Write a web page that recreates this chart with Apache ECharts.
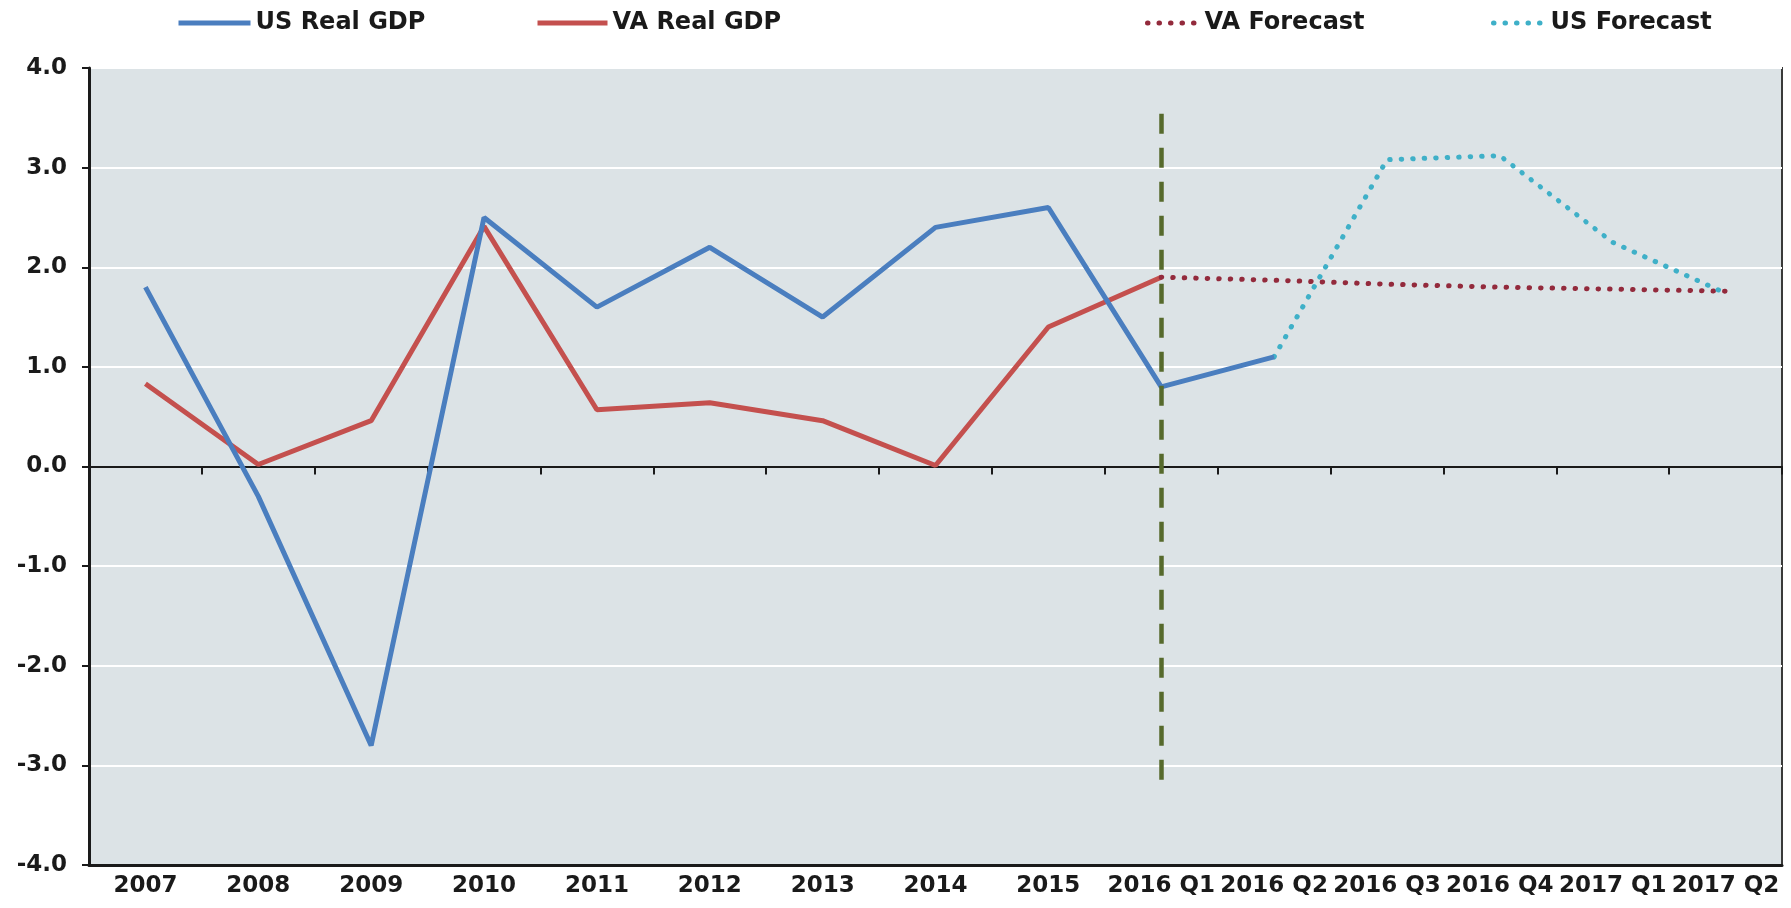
<!DOCTYPE html>
<html>
<head>
<meta charset="utf-8">
<style>
  html, body { margin: 0; padding: 0; background: #ffffff; }
  #chart { width: 1791px; height: 908px; }
</style>
<script src="https://cdn.jsdelivr.net/npm/echarts@6/dist/echarts.min.js"></script>
</head>
<body>
<div id="chart"></div>
<script>
const categories = ['2007', '2008', '2009', '2010', '2011', '2012', '2013', '2014', '2015',
  '2016 Q1', '2016 Q2', '2016 Q3', '2016 Q4', '2017 Q1', '2017 Q2'];
const usReal = [1.8, -0.3, -2.8, 2.5, 1.6, 2.2, 1.5, 2.4, 2.6, 0.8, 1.1, null, null, null, null];
const vaReal = [0.83, 0.02, 0.46, 2.41, 0.57, 0.64, 0.46, 0.01, 1.4, 1.9, null, null, null, null, null];
const vaForecast = [null, null, null, null, null, null, null, null, null, 1.9, 1.87, 1.83, 1.8, 1.78, 1.76];
const usForecast = [null, null, null, null, null, null, null, null, null, null, 1.1, 3.08, 3.12, 2.25, 1.74];
const dividerCategory = '2016 Q1';
const dividerRange = [3.54, -3.24];
const yTicks = [-4, -3, -2, -1, 0, 1, 2, 3, 4];

const legendFont = { fontFamily: 'DejaVu Sans', fontWeight: 'bold', fontSize: 24, color: '#1a1a1a' };
const legendCommon = {
  top: 6, itemHeight: 14, itemGap: 0, textStyle: legendFont,
  itemStyle: { opacity: 0 }, lineStyle: { width: 5 }
};

const chart = echarts.init(document.getElementById('chart'), null, { renderer: 'canvas' });
chart.setOption({
  animation: false,
  backgroundColor: '#ffffff',
  legend: [
    Object.assign({ data: ['US Real GDP'], left: 171, itemWidth: 72 }, legendCommon),
    Object.assign({ data: ['VA Real GDP'], left: 530, itemWidth: 70 }, legendCommon),
    Object.assign({ data: ['VA Forecast'], left: 1140, itemWidth: 52 }, legendCommon),
    Object.assign({ data: ['US Forecast'], left: 1486, itemWidth: 52 }, legendCommon)
  ],
  grid: {
    left: 89, right: 9, top: 68, bottom: 43,
    show: true, backgroundColor: '#dce3e6', borderColor: '#3a3a3a', borderWidth: 2
  },
  xAxis: [
    {
      type: 'category', data: categories, position: 'bottom', boundaryGap: true,
      axisLine: { onZero: false, lineStyle: { color: '#1a1a1a', width: 3 } },
      axisTick: { show: false },
      axisLabel: { margin: 10, interval: 0, hideOverlap: false, fontFamily: 'DejaVu Sans', fontWeight: 'bold', fontSize: 23, color: '#1a1a1a' },
      splitLine: { show: false }
    },
    {
      type: 'category', data: categories, position: 'top', boundaryGap: true,
      axisLine: { onZero: true, lineStyle: { color: '#1a1a1a', width: 2 } },
      axisTick: { show: true, inside: true, length: 8, lineStyle: { color: '#1a1a1a', width: 2 } },
      axisLabel: { show: false },
      splitLine: { show: false }
    }
  ],
  yAxis: {
    type: 'value', min: yTicks[0], max: yTicks[yTicks.length - 1], interval: 1,
    axisLine: { show: true, lineStyle: { color: '#1a1a1a', width: 3 } },
    axisTick: { show: true, length: 7, lineStyle: { color: '#1a1a1a', width: 2 } },
    axisLabel: {
      margin: 22, fontFamily: 'DejaVu Sans', fontWeight: 'bold', fontSize: 23, color: '#1a1a1a',
      formatter: v => v.toFixed(1)
    },
    splitLine: { show: true, lineStyle: { color: '#ffffff', width: 2 } }
  },
  series: [
    {
      name: 'US Real GDP', type: 'line', data: usReal, xAxisIndex: 0,
      showSymbol: false, symbol: 'none', connectNulls: false,
      lineStyle: { color: '#4a7ebf', width: 5 }, itemStyle: { color: '#4a7ebf' }, z: 4,
      markLine: {
        silent: true, symbol: 'none', label: { show: false },
        lineStyle: { color: '#566a2c', width: 4.5, type: [20, 14] },
        data: [[
          { coord: [dividerCategory, dividerRange[0]] },
          { coord: [dividerCategory, dividerRange[1]] }
        ]]
      }
    },
    {
      name: 'VA Real GDP', type: 'line', data: vaReal, xAxisIndex: 0,
      showSymbol: false, symbol: 'none',
      lineStyle: { color: '#c4504e', width: 5 }, itemStyle: { color: '#c4504e' }, z: 3
    },
    {
      name: 'VA Forecast', type: 'line', data: vaForecast, xAxisIndex: 0,
      showSymbol: false, symbol: 'none',
      lineStyle: { color: '#932a3c', width: 5, type: [0.5, 11], cap: 'round' },
      itemStyle: { color: '#932a3c' }, z: 3
    },
    {
      name: 'US Forecast', type: 'line', data: usForecast, xAxisIndex: 0,
      showSymbol: false, symbol: 'none',
      lineStyle: { color: '#3fb0c8', width: 5, type: [0.5, 11], cap: 'round' },
      itemStyle: { color: '#3fb0c8' }, z: 3
    }
  ]
});
</script>
</body>
</html>
